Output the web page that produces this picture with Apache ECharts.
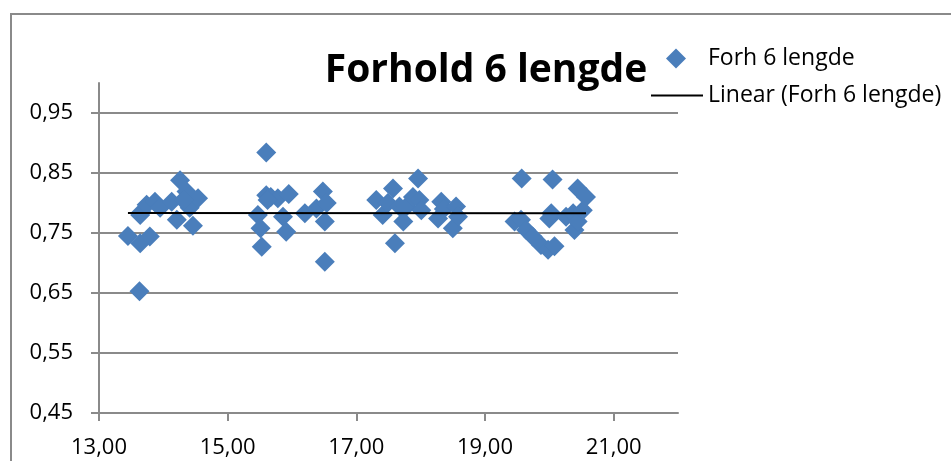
<!DOCTYPE html>
<html>
<head>
<meta charset="utf-8">
<script src="https://cdn.jsdelivr.net/npm/echarts@6/dist/echarts.min.js"></script>
<style>
  html, body { margin: 0; padding: 0; background: #fff; }
  #chart { width: 951px; height: 461px; }
</style>
</head>
<body>
<div id="chart"></div>
<script>
// Measurements: length (x) and ratio "forhold 6" (y)
const lengths = [
  13.45, 13.63, 13.64, 13.79, 13.66, 13.64, 13.74, 13.87, 13.95, 14.13, 14.26, 14.36, 14.21, 14.41, 14.54, 14.46, 14.31,
  15.47, 15.51, 15.53, 15.60, 15.60, 15.67, 15.78, 15.86, 15.91, 15.95, 16.20, 16.38, 16.48, 16.54, 16.51, 16.51, 15.62,
  17.31, 17.41, 17.49, 17.57, 17.60, 17.67, 17.73, 17.78, 17.88, 17.96, 17.98, 18.01, 18.27, 18.32, 18.36, 18.50, 18.55, 18.58,
  19.46, 19.56, 19.57, 19.64, 19.74, 19.87, 19.98, 20.08, 20.00, 20.03, 20.05, 20.26, 20.37, 20.39, 20.44, 20.44, 20.52, 20.57
];
const ratios = [
  0.745, 0.653, 0.733, 0.744, 0.785, 0.780, 0.797, 0.802, 0.792, 0.802, 0.838, 0.819, 0.772, 0.792, 0.808, 0.762, 0.805,
  0.780, 0.758, 0.727, 0.884, 0.813, 0.810, 0.808, 0.777, 0.752, 0.815, 0.783, 0.791, 0.819, 0.800, 0.769, 0.702, 0.805,
  0.805, 0.780, 0.800, 0.824, 0.733, 0.794, 0.769, 0.794, 0.810, 0.841, 0.805, 0.788, 0.774, 0.802, 0.790, 0.758, 0.794, 0.777,
  0.769, 0.772, 0.841, 0.755, 0.744, 0.730, 0.722, 0.728, 0.774, 0.783, 0.839, 0.777, 0.783, 0.755, 0.769, 0.824, 0.788, 0.810
];
const xTicks = [13, 15, 17, 19, 21];
const yTicks = [0.45, 0.55, 0.65, 0.75, 0.85, 0.95];

const seriesName = 'Forh 6 lengde';
const trendName = 'Linear (Forh 6 lengde)';

// Least-squares linear trend over the measured range
function linearTrend(xs, ys) {
  const n = xs.length;
  let sx = 0, sy = 0, sxx = 0, sxy = 0;
  for (let i = 0; i < n; i++) {
    sx += xs[i]; sy += ys[i];
    sxx += xs[i] * xs[i]; sxy += xs[i] * ys[i];
  }
  const slope = (n * sxy - sx * sy) / (n * sxx - sx * sx);
  const icpt = (sy - slope * sx) / n;
  const x0 = Math.min(...xs), x1 = Math.max(...xs);
  return [[x0, icpt + slope * x0], [x1, icpt + slope * x1]];
}

const points = lengths.map((x, i) => [x, ratios[i]]);
const trend = linearTrend(lengths, ratios);

const fmt = v => v.toFixed(2).replace('.', ',');
const font = '"Open Sans", "Liberation Sans", sans-serif';
const gray = '#8a8a8a';
const tickSize = 22;
const legendSize = 23;

const chart = echarts.init(document.getElementById('chart'), null, { renderer: 'canvas' });
chart.setOption({
  animation: false,
  backgroundColor: '#ffffff',
  textStyle: { fontFamily: font, color: '#000' },
  graphic: [{
    type: 'rect',
    shape: { x: 11, y: 14, width: 1000, height: 500 },
    style: { fill: 'none', stroke: gray, lineWidth: 2 },
    silent: true, z: -10
  }],
  title: {
    text: 'Forhold 6 lengde',
    left: 481, top: 46, textAlign: 'center',
    textStyle: { fontFamily: font, fontWeight: 'bold', fontSize: 39, color: '#000' }
  },
  legend: [
    {
      // marker series entry
      left: 666, top: 47, padding: 0,
      itemWidth: 20, itemHeight: 20,
      textStyle: { fontFamily: font, fontSize: legendSize, color: '#000', padding: [0, 0, 0, 17] },
      data: [{ name: seriesName, icon: 'diamond' }]
    },
    {
      // trend line entry
      left: 651, top: 84, padding: 0,
      itemWidth: 52, itemHeight: 2,
      textStyle: { fontFamily: font, fontSize: legendSize, color: '#000' },
      data: [{ name: trendName, icon: 'rect' }]
    }
  ],
  grid: { left: 99, right: 273, top: 83, bottom: 48 },
  xAxis: {
    type: 'value', min: 13, max: 22, interval: 2,
    axisLine: { show: true, lineStyle: { color: gray, width: 2 } },
    axisTick: { show: true, length: 8, customValues: xTicks, lineStyle: { color: gray, width: 2 } },
    axisLabel: { customValues: xTicks, formatter: fmt, fontSize: tickSize, color: '#000', margin: 24, fontFamily: font },
    splitLine: { show: false }
  },
  yAxis: {
    type: 'value', min: 0.45, max: 1.0, interval: 0.1,
    axisLine: { show: true, lineStyle: { color: gray, width: 2 } },
    axisTick: { show: true, length: 8, customValues: yTicks, lineStyle: { color: gray, width: 2 } },
    axisLabel: { customValues: yTicks, formatter: fmt, fontSize: tickSize, color: '#000', margin: 26, fontFamily: font },
    splitLine: { show: true, lineStyle: { color: gray, width: 2 } }
  },
  series: [
    {
      name: seriesName,
      type: 'scatter',
      symbol: 'diamond',
      symbolSize: 20,
      itemStyle: { color: '#4a7ebb', opacity: 1 },
      data: points,
      z: 2
    },
    {
      name: trendName,
      type: 'line',
      symbol: 'none',
      showSymbol: false,
      lineStyle: { color: '#000', width: 2 },
      itemStyle: { color: '#000' },
      data: trend,
      z: 3
    }
  ]
});
</script>
</body>
</html>
